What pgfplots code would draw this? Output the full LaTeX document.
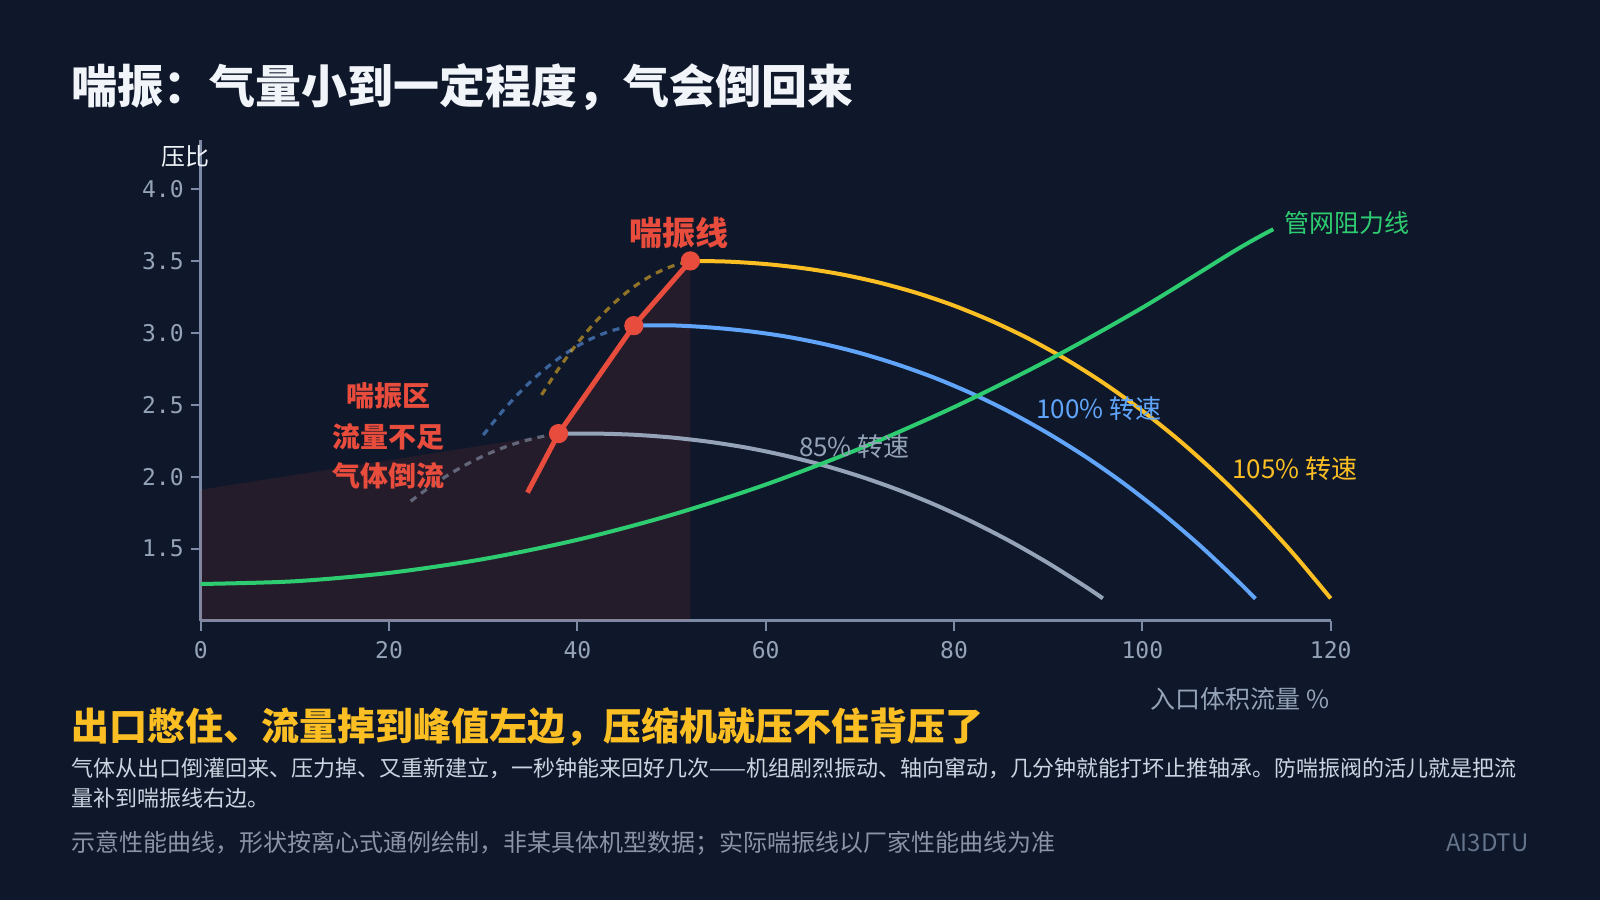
\documentclass[border=0pt]{standalone}
\usepackage{fontspec}
\setmainfont{Noto Sans CJK SC}
\setmonofont{DejaVu Sans Mono}
\usepackage{pgfplots}
\pgfplotsset{compat=1.18}
\definecolor{bg}{HTML}{0F172A}
\definecolor{axisgray}{HTML}{7C8AA5}
\definecolor{tickgray}{HTML}{94A3B8}
\definecolor{c85}{HTML}{94A3B8}
\definecolor{c100}{HTML}{60A5FA}
\definecolor{c105}{HTML}{FBBF24}
\definecolor{cgreen}{HTML}{2ECC71}
\definecolor{csurge}{HTML}{E74C3C}
\definecolor{titlec}{HTML}{F1F5F9}
\definecolor{bodyc}{HTML}{CBD5E1}
\definecolor{footc}{HTML}{8A94A6}
\definecolor{markc}{HTML}{64748B}
\begin{document}
\begin{tikzpicture}[x=1pt,y=1pt]
\path[use as bounding box, fill=bg] (0,0) rectangle (800,450);
\begin{axis}[
  at={(100.35pt,139.65pt)}, anchor=south west,
  scale only axis, width=565pt, height=240.35pt,
  xmin=0, xmax=120, ymin=1, ymax=4.34,
  axis x line=bottom, axis y line=left,
  axis line style={-, draw=axisgray, line width=1.25pt},
  xtick={0,20,...,120}, ytick={1.5,2,2.5,3,3.5,4},
  tick align=outside, major tick length=5pt,
  tick style={draw=axisgray, line width=1pt},
  /pgf/number format/assume math mode=true,
  ticklabel style={font=\ttfamily\fontsize{11.5}{13}\selectfont, text=tickgray},
  yticklabel style={/pgf/number format/.cd, fixed, fixed zerofill, precision=1},
  xticklabel style={yshift=-2pt},
  clip=false,
]
% surge zone shading
\addplot[draw=none, fill=csurge, fill opacity=0.1] coordinates {(0,1) (0,1.91) (38,2.3) (46,3.05) (52,3.5) (52,1)} -- cycle;
% dotted extensions (unstable branch)
\addplot[c85, opacity=0.55, line width=1.6pt, dash pattern=on 3.5pt off 3pt, smooth] coordinates {(22.3,1.830) (24,1.913) (26,2.001) (28,2.078) (30,2.144) (32,2.199) (34,2.243) (36,2.276) (38,2.300)};
\addplot[c100, opacity=0.55, line width=1.6pt, dash pattern=on 3.5pt off 3pt, smooth] coordinates {(30,2.290) (32,2.452) (34,2.595) (36,2.718) (38,2.822) (40,2.908) (42,2.975) (44,3.022) (46,3.050)};
\addplot[c105, opacity=0.55, line width=1.6pt, dash pattern=on 3.5pt off 3pt, smooth] coordinates {(36.2,2.569) (38,2.750) (40,2.928) (42,3.082) (44,3.213) (46,3.320) (48,3.403) (50,3.462) (52,3.500)};
% speed lines
\addplot[c85, line width=2pt, smooth] coordinates {(38,2.300) (42,2.300) (46,2.292) (50,2.273) (54,2.243) (58,2.202) (62,2.148) (66,2.082) (70,2.003) (74,1.911) (78,1.805) (82,1.685) (86,1.550) (90,1.400) (94,1.235) (95.8,1.155)};
\addplot[c100, line width=2pt, smooth] coordinates {(46,3.050) (50,3.052) (54,3.038) (58,3.013) (62,2.976) (66,2.925) (70,2.860) (74,2.780) (78,2.686) (82,2.575) (86,2.447) (90,2.301) (94,2.138) (98,1.955) (102,1.752) (106,1.529) (110,1.284) (112,1.153)};
\addplot[c105, line width=2pt, smooth] coordinates {(52,3.500) (56,3.495) (60,3.478) (64,3.449) (68,3.407) (72,3.350) (76,3.278) (80,3.189) (84,3.082) (88,2.957) (92,2.812) (96,2.646) (100,2.458) (104,2.248) (108,2.013) (112,1.754) (116,1.468) (120,1.155)};
% system resistance line
\addplot[cgreen, line width=2pt, smooth] coordinates {(0,1.255) (10,1.274) (20,1.332) (30,1.428) (40,1.562) (50,1.735) (60,1.946) (70,2.196) (80,2.484) (90,2.810) (100,3.175) (110,3.578) (113.9,3.72)};
% surge line
\addplot[csurge, line width=2.5pt] coordinates {(34.7,1.89) (38,2.3) (46,3.05) (52,3.5)};
\addplot[only marks, mark=*, mark size=4.6pt, mark options={fill=csurge, draw=csurge}] coordinates {(38,2.3) (46,3.05) (52,3.5)};
% labels
\node[text=csurge, font=\bfseries\fontsize{16.5}{18}\selectfont] at (axis cs:50.8,3.695) {喘振线};
\node[text=csurge, font=\bfseries\fontsize{14}{16}\selectfont] at (axis cs:19.9,2.56) {喘振区};
\node[text=csurge, font=\bfseries\fontsize{14}{16}\selectfont] at (axis cs:19.9,2.275) {流量不足};
\node[text=csurge, font=\bfseries\fontsize{14}{16}\selectfont] at (axis cs:19.9,2.005) {气体倒流};
\node[text=c85, anchor=west, inner sep=0pt, font=\fontsize{13}{15}\selectfont] at (axis cs:63.5,2.21) {85\% 转速};
\node[text=c100, anchor=west, inner sep=0pt, font=\fontsize{13}{15}\selectfont] at (axis cs:88.7,2.475) {100\% 转速};
\node[text=c105, anchor=west, inner sep=0pt, font=\fontsize{13}{15}\selectfont] at (axis cs:109.5,2.06) {105\% 转速};
\node[text=cgreen, anchor=west, inner sep=0pt, font=\fontsize{12.5}{14}\selectfont] at (axis cs:115.1,3.76) {管网阻力线};
\end{axis}
% outside texts
\node[text=titlec, anchor=center, font=\fontsize{12}{14}\selectfont] at (92.5,372) {压比};
\node[text=tickgray, anchor=east, inner sep=0pt, font=\fontsize{12.5}{14}\selectfont] at (665,100.5) {入口体积流量 \%};
\node[text=titlec, anchor=west, inner sep=0pt, font=\bfseries\fontsize{23}{26}\selectfont] at (35.5,406.5) {喘振：气量小到一定程度，气会倒回来};
\node[text=c105, anchor=west, inner sep=0pt, font=\bfseries\fontsize{19}{22}\selectfont] at (35.5,86.25) {出口憋住、流量掉到峰值左边，压缩机就压不住背压了};
\node[text=bodyc, anchor=west, inner sep=0pt, font=\fontsize{11}{13}\selectfont] at (35.5,66) {气体从出口倒灌回来、压力掉、又重新建立，一秒钟能来回好几次——机组剧烈振动、轴向窜动，几分钟就能打坏止推轴承。防喘振阀的活儿就是把流};
\node[text=bodyc, anchor=west, inner sep=0pt, font=\fontsize{11}{13}\selectfont] at (35.5,51) {量补到喘振线右边。};
\node[text=footc, anchor=west, inner sep=0pt, font=\fontsize{12}{14}\selectfont] at (35.5,28.5) {示意性能曲线，形状按离心式通例绘制，非某具体机型数据；实际喘振线以厂家性能曲线为准};
\node[text=markc, anchor=east, inner sep=0pt, font=\fontsize{12}{14}\selectfont] at (764.5,28.5) {AI3DTU};
\end{tikzpicture}
\end{document}
